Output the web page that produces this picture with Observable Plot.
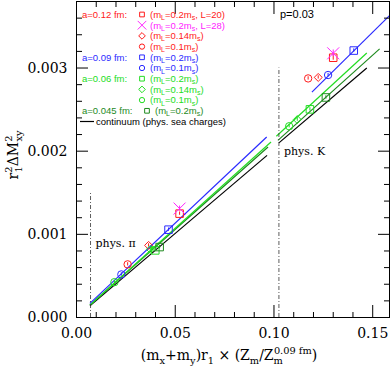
<!DOCTYPE html>
<html><head><meta charset="utf-8">
<script src="https://cdn.jsdelivr.net/npm/d3@7"></script>
<script src="https://cdn.jsdelivr.net/npm/@observablehq/plot@0.6"></script>
<style>body{margin:0;background:#fff} svg{display:block}</style>
</head><body><div id="chart"></div>
<script>
// ---------- data ----------
const xTicksMajor = [0, 0.05, 0.10, 0.15];
const xTickLabels = ["0.00", "0.05", "0.10", "0.15"];
const xTicksMinor = [0.01,0.02,0.03,0.04,0.06,0.07,0.08,0.09,0.11,0.12,0.13,0.14];
const yTicksMajor = [0, 0.001, 0.002, 0.003];
const yTickLabels = ["0.000", "0.001", "0.002", "0.003"];
const yTicksMinor = [0.0002,0.0004,0.0006,0.0008,0.0012,0.0014,0.0016,0.0018,0.0022,0.0024,0.0026,0.0028,0.0032,0.0034,0.0036];

// a = 0.12 fm
const a12sqX = [0.0522, 0.1300], a12sqY = [0.001249, 0.003124], a12sqE = [0.00002, 0.00003];
const a12xX  = [0.0522, 0.1300], a12xY  = [0.00131, 0.003177],  a12xE  = [0.00003, 0.00004];
const a12diX = [0.0365, 0.1224], a12diY = [0.000867, 0.002887], a12diE = [0.00002, 0.00002];
const a12ciX = [0.0259, 0.1173], a12ciY = [0.000639, 0.002875], a12ciE = [0.00002, 0.00002];
// a = 0.09 fm
const a09sqX = [0.0466, 0.1404], a09sqY = [0.001056, 0.00321],  a09sqE = [0.00002, 0.00002];
const a09ciX = [0.0227, 0.1274], a09ciY = [0.000518, 0.002916], a09ciE = [0.00002, 0.00002];
// a = 0.06 fm
const a06sqX = [0.0399, 0.1182], a06sqY = [0.000807, 0.002503], a06sqE = [0.00002, 0.00002];
const a06diX = [0.0374, 0.1118], a06diY = [0.00082, 0.00238],   a06diE = [0.00002, 0.00002];
const a06ciX = [0.0192, 0.1077], a06ciY = [0.000425, 0.0023],   a06ciE = [0.00002, 0.00002];
// a = 0.045 fm
const a045sqX = [0.0421, 0.1263], a045sqY = [0.000847, 0.002646], a045sqE = [0.00002, 0.00002];

// fit segments [x1, y1, x2, y2]
const fitBlue   = [[0.0068, 0.00017, 0.0963, 0.00217], [0.1192, 0.00271, 0.1585, 0.00363]];
const fitLGreen = [[0.0068, 0.00015, 0.0985, 0.00211], [0.1012, 0.00218, 0.1470, 0.00318]];
const fitDGreen = [[0.0068, 0.00015, 0.0970, 0.00205], [0.1020, 0.00213, 0.1535, 0.00323]];
const fitBlack  = [[0.0068, 0.00014, 0.0965, 0.00195], [0.1025, 0.00210, 0.1470, 0.00300]];

// physical points (vertical dash-dot markers)
const physX = [0.0071, 0.1025];
const physTop = [0.0015, 0.0030];
const physLabelY = [0.00089, 0.00200];
const physLabels = ["phys. π", "phys. K"];

const RED = "#ff1a1a", MAG = "#ff22ff", BLUE = "#2a2aff", LGREEN = "#22dd22", DGREEN = "#1e8a1e", BLACK = "#000";

// ---------- marks ----------
function pts(X, Y, E, symbol, r, color) {
  const idx = X.map((_, i) => i);
  return [
    Plot.ruleX(idx, {x: i => X[i], y1: i => Y[i] - E[i], y2: i => Y[i] + E[i], stroke: color, strokeWidth: 1}),
    Plot.dot(idx, {x: i => X[i], y: i => Y[i], symbol, r, stroke: color, fill: "none", strokeWidth: 1})
  ];
}
function fit(segs, color) {
  return Plot.link(segs, {x1: d => d[0], y1: d => d[1], x2: d => d[2], y2: d => d[3], stroke: color, strokeWidth: 1.2});
}

const SERIF = "DejaVu Serif";
const plot = Plot.plot({
  width: 392, height: 366,
  marginLeft: 76, marginRight: 3, marginTop: 1, marginBottom: 49,
  x: {domain: [0, 0.1585], label: null},
  y: {domain: [0, 0.0038], label: null},
  style: {fontFamily: SERIF, fontSize: "14px", background: "white", overflow: "visible"},
  marks: [
    fit(fitBlack, BLACK), fit(fitDGreen, DGREEN), fit(fitLGreen, LGREEN), fit(fitBlue, BLUE),
    Plot.ruleX(physX, {x: d => d, y1: 0, y2: (d, i) => physTop[i], stroke: "#333", strokeWidth: 0.8, strokeDasharray: "4,2,1,2"}),
    Plot.text(physLabels, {x: (d, i) => physX[i], y: (d, i) => physLabelY[i], text: d => d, textAnchor: "start", dx: 5, fontSize: 11, fontFamily: SERIF}),
    ...pts(a12sqX, a12sqY, a12sqE, "square2", 4.8, RED),
    ...pts(a12xX, a12xY, a12xE, "times", 5.5, MAG),
    ...pts(a12diX, a12diY, a12diE, "diamond2", 3.6, RED),
    ...pts(a12ciX, a12ciY, a12ciE, "circle", 3.7, RED),
    ...pts(a09sqX, a09sqY, a09sqE, "square2", 4.8, BLUE),
    ...pts(a09ciX, a09ciY, a09ciE, "circle", 3.7, BLUE),
    ...pts(a06sqX, a06sqY, a06sqE, "square2", 4.8, LGREEN),
    ...pts(a06diX, a06diY, a06diE, "diamond2", 3.6, LGREEN),
    ...pts(a06ciX, a06ciY, a06ciE, "circle", 3.7, LGREEN),
    ...pts(a045sqX, a045sqY, a045sqE, "square2", 4.8, DGREEN),
    // inward ticks on all four sides
    Plot.axisX(xTicksMajor, {anchor: "bottom", tickSize: -12, tickFormat: () => ""}),
    Plot.axisX(xTicksMinor, {anchor: "bottom", tickSize: -5, tickFormat: () => ""}),
    Plot.axisX(xTicksMajor, {anchor: "top", tickSize: -12, tickFormat: () => ""}),
    Plot.axisX(xTicksMinor, {anchor: "top", tickSize: -5, tickFormat: () => ""}),
    Plot.axisY(yTicksMajor, {anchor: "left", tickSize: -12, tickFormat: () => ""}),
    Plot.axisY(yTicksMinor, {anchor: "left", tickSize: -6, tickFormat: () => ""}),
    Plot.axisY(yTicksMajor, {anchor: "right", tickSize: -12, tickFormat: () => ""}),
    Plot.axisY(yTicksMinor, {anchor: "right", tickSize: -6, tickFormat: () => ""}),
    Plot.axisX(xTicksMajor, {anchor: "bottom", tickSize: 0, tickPadding: 11, fontSize: 14, tickFormat: d => xTickLabels[xTicksMajor.indexOf(d)]}),
    Plot.axisY(yTicksMajor, {anchor: "left", tickSize: 0, tickPadding: 9, fontSize: 14, tickFormat: d => yTickLabels[yTicksMajor.indexOf(d)]}),
    Plot.frame({stroke: "#000", strokeWidth: 1})
  ]
});
document.getElementById("chart").appendChild(plot);

// ---------- text annotations (legend, axis titles) ----------
const svg = d3.select(plot);
function rich(sel, parts, base, subK = 0.32) {
  let shift = 0;
  for (const p of parts) {
    const target = p.sub ? base * subK : p.sup ? -base * 0.42 : 0;
    const ts = sel.append("tspan").attr("dy", target - shift).text(p.t);
    if (p.sub || p.sup) ts.attr("font-size", base * 0.7);
    if (p.dx) ts.attr("dx", p.dx);
    shift = target;
  }
}
const SANS = "Liberation Sans";
const legendRows = [
  {color: RED,    prefix: "a=0.12 fm:",  sym: d3.symbolSquare2,  mL: "0.2",  L: "20"},
  {color: MAG,    sym: d3.symbolTimes,   mL: "0.2",  L: "28"},
  {color: RED,    sym: d3.symbolDiamond2, mL: "0.14"},
  {color: RED,    sym: d3.symbolCircle,  mL: "0.1"},
  {color: BLUE,   prefix: "a=0.09 fm:",  sym: d3.symbolSquare2, mL: "0.2"},
  {color: BLUE,   sym: d3.symbolCircle,  mL: "0.1"},
  {color: LGREEN, prefix: "a=0.06 fm:",  sym: d3.symbolSquare2, mL: "0.2"},
  {color: LGREEN, sym: d3.symbolDiamond2, mL: "0.14"},
  {color: LGREEN, sym: d3.symbolCircle,  mL: "0.1"},
  {color: DGREEN, prefix: "a=0.045 fm:", sym: d3.symbolSquare2, mL: "0.2", wide: true}
];
const rowY = [14.5, 25.2, 35.9, 46.6, 57.3, 68, 78.7, 89.4, 100.1, 110.8, 121.5];
const lg = svg.append("g").attr("font-family", SANS).attr("font-size", 9.5).attr("text-anchor", "start");
legendRows.forEach((r, i) => {
  const y = rowY[i];
  if (r.prefix) lg.append("text").attr("x", 82).attr("y", y).attr("dy", "0.35em").attr("fill", r.color).text(r.prefix);
  const sx = r.wide ? 147 : 142;
  const size = r.sym === d3.symbolCircle ? 22 : r.sym === d3.symbolTimes ? 50 : 28;
  lg.append("path").attr("transform", `translate(${sx},${y})`).attr("d", d3.symbol(r.sym, size)())
    .attr("fill", "none").attr("stroke", r.color).attr("stroke-width", 1);
  const t = lg.append("text").attr("x", sx + 8).attr("y", y + 3.3).attr("fill", r.color);
  const parts = [{t: "(m"}, {t: "L", sub: true}, {t: "=" + r.mL + "m"}, {t: "s", sub: true}];
  if (r.L) parts.push({t: ", L=" + r.L + ")"}); else parts.push({t: ")"});
  rich(t, parts, 10, 0.22);
});
lg.append("line").attr("x1", 80).attr("x2", 94).attr("y1", rowY[10]).attr("y2", rowY[10]).attr("stroke", "#000").attr("stroke-width", 1.2);
lg.append("text").attr("x", 96).attr("y", rowY[10]).attr("dy", "0.35em").attr("fill", "#000").text("continuum (phys. sea charges)");

svg.append("text").attr("x", 280).attr("y", 14).attr("dy", "0.35em").attr("text-anchor", "start").attr("font-family", SANS).attr("font-size", 11).text("p=0.03");

// x axis title
const xt = svg.append("text").attr("x", 229).attr("y", 360).attr("text-anchor", "middle").attr("font-family", SERIF).attr("font-size", 14);
rich(xt, [{t: "(m"}, {t: "x", sub: true}, {t: "+m"}, {t: "y", sub: true}, {t: ")r"}, {t: "1", sub: true},
          {t: " × (Z"}, {t: "m", sub: true}, {t: "/Z"}, {t: "m", sub: true}, {t: "0.09 fm", sup: true, dx: -9}, {t: ")"}], 14);
// y axis title
const yt = svg.append("text").attr("transform", "translate(18,155) rotate(-90)").attr("text-anchor", "middle").attr("font-family", SERIF).attr("font-size", 14);
rich(yt, [{t: "r"}, {t: "2", sup: true}, {t: "1", sub: true, dx: -6}, {t: "ΔM"}, {t: "2", sup: true}, {t: "xy", sub: true, dx: -6}], 14);
</script>
</body></html>
